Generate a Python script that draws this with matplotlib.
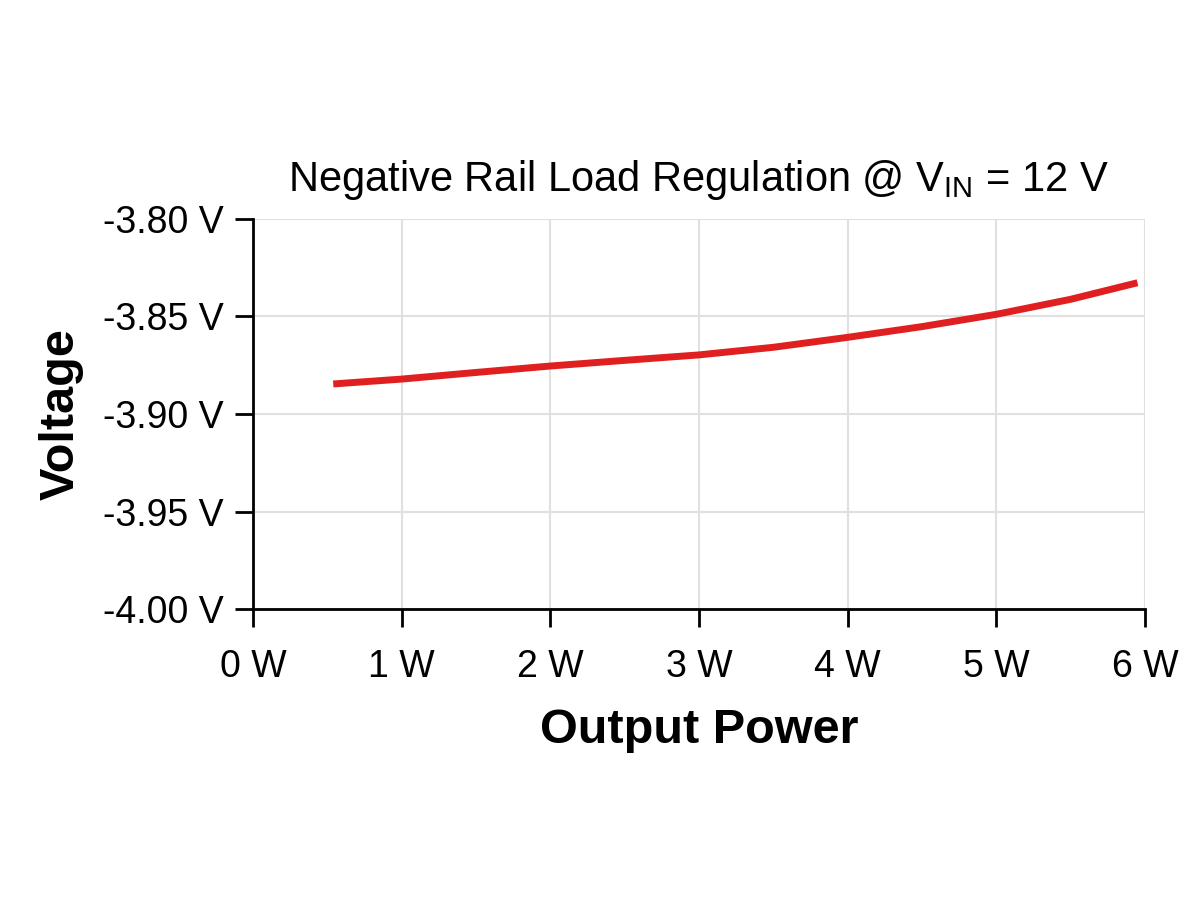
import matplotlib
matplotlib.use("Agg")
import matplotlib.pyplot as plt
import numpy as np
from matplotlib import font_manager

power_w = [0.54, 1.0, 1.5, 2.0, 2.5, 3.0, 3.5, 4.0, 4.5, 5.0, 5.5, 5.95]
voltage_v = [-3.8846, -3.8821, -3.8787, -3.8754, -3.8725, -3.8697, -3.8658, -3.8607, -3.8552, -3.8489, -3.8412, -3.8327]
x_ticks = [0, 1, 2, 3, 4, 5, 6]
x_labels = ["0 W", "1 W", "2 W", "3 W", "4 W", "5 W", "6 W"]
y_ticks = [-4.00, -3.95, -3.90, -3.85, -3.80]
y_labels = ["-4.00 V", "-3.95 V", "-3.90 V", "-3.85 V", "-3.80 V"]

names = {f.name for f in font_manager.fontManager.ttflist}
fam = "Liberation Sans Narrow" if "Liberation Sans Narrow" in names else "Liberation Sans"
plt.rcParams['font.family'] = [fam, 'DejaVu Sans']
plt.rcParams['mathtext.fontset'] = 'custom'
plt.rcParams['mathtext.rm'] = fam

fig = plt.figure(figsize=(12, 9), dpi=100)
ax = fig.add_axes([0.2108, 0.3233, 0.7433, 0.4334])

ax.plot(power_w, voltage_v, color="#e02020", linewidth=5, solid_capstyle='butt',
        solid_joinstyle='round')
ax.set_xlim(0, 6)
ax.set_ylim(-4.0, -3.8)
ax.set_xticks(x_ticks)
ax.set_xticklabels(x_labels)
ax.set_yticks(y_ticks)
ax.set_yticklabels(y_labels)
ax.grid(True, color="#e0e0e0", linewidth=1.5)
ax.set_axisbelow(True)
for s in ["top", "right"]:
    ax.spines[s].set_visible(False)
for s in ["left", "bottom"]:
    ax.spines[s].set_linewidth(2)
ax.tick_params(axis='both', direction='out', length=13, width=2, labelsize=27)
ax.tick_params(axis='x', pad=16)
ax.tick_params(axis='y', pad=8)

ax.set_xlabel("Output Power", fontsize=35, fontweight='bold', labelpad=16)
ax.set_ylabel("Voltage", fontsize=35, fontweight='bold', labelpad=14)
ax.set_title(r"Negative Rail Load Regulation @ V$_{\mathrm{IN}}$ = 12 V", fontsize=30, pad=20)

fig.savefig("out.png", dpi=100)
